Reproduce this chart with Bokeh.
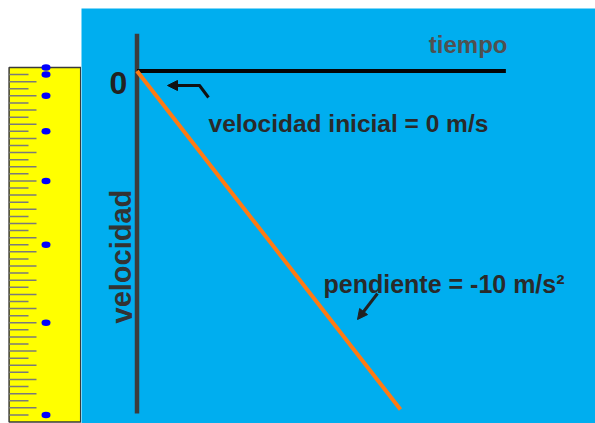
from bokeh.plotting import figure
from bokeh.layouts import row
from bokeh.models import Range1d, Arrow, NormalHead, Label
from bokeh.embed import file_html
from bokeh.resources import INLINE

# ---------------- data ----------------
drop_times_s = [0, 1, 2, 3, 4, 5, 6, 7]
drop_positions_m = [0, 5, 20, 45, 80, 125, 180, 245]
ruler_length_m = 250
ruler_tick_step_m = 5
line_t_s = [0, 7]
line_v_ms = [0, -70]
axis_t_max = 9.8
axis_v_top = 7.7
axis_v_bottom = -70.8
x_axis_label = "tiempo"
y_axis_label = "velocidad"
origin_label = "0"
note_initial = "velocidad inicial = 0 m/s"
note_slope = "pendiente = -10 m/s²"

# ---------------- layout ----------------
FONT = "Liberation Sans"
H = 423
W_R = 81
W_G = 514
TOP = 8
BLUE = "#00aeef"
PX_PER_M = 1.418
RULER_TOP = 67               # page y of 0 m
OX, OY = 55.5, 62.5          # origin of the graph inside the blue frame (px)
PX_PER_S, PX_PER_V = 37.64, 4.836
FH = H - TOP                 # frame height (both figures)

# ---------------- ruler figure ----------------
r = figure(width=W_R, height=H, output_backend="svg", toolbar_location=None,
           x_range=Range1d(0, W_R),
           y_range=Range1d((H - RULER_TOP) / PX_PER_M, -(RULER_TOP - TOP) / PX_PER_M),
           min_border=0, min_border_top=TOP, outline_line_color=None,
           background_fill_color="white", border_fill_color="white")
r.axis.visible = False
r.grid.visible = False
r.quad(left=8.6, right=W_R - 0.8, top=0, bottom=ruler_length_m,
       fill_color="#ffff00", line_color="#3a3a3a", line_width=1.5)
ticks = list(range(ruler_tick_step_m, ruler_length_m, ruler_tick_step_m))
lens = [36 if (m // ruler_tick_step_m) % 2 == 0 else 28 for m in ticks]
r.segment(x0=[8.6] * len(ticks), x1=lens, y0=ticks, y1=ticks,
          line_color="#7a7a7a", line_width=1.5)
r.ellipse(x=[45.5] * len(drop_positions_m), y=drop_positions_m,
          width=9, height=6.5 / PX_PER_M, fill_color="#0000ff", line_color=None)

# ---------------- graph figure ----------------
g = figure(width=W_G, height=H, output_backend="svg", toolbar_location=None,
           x_range=Range1d(-OX / PX_PER_S, (W_G - OX) / PX_PER_S),
           y_range=Range1d(-(FH - OY) / PX_PER_V, OY / PX_PER_V),
           min_border=0, min_border_top=TOP, outline_line_color=None,
           background_fill_color=BLUE, border_fill_color="white")
g.axis.visible = False
g.grid.visible = False


def gx(px):
    return (px - W_R - OX) / PX_PER_S


def gy(py):
    return (OY - (py - TOP)) / PX_PER_V


# axes lines
g.line(x=[0, 0], y=[axis_v_top, axis_v_bottom], line_color="#3c3c3c", line_width=4.5)
g.line(x=[0, axis_t_max], y=[0, 0], line_color="#050505", line_width=4)
# velocity line
g.line(x=line_t_s, y=line_v_ms, line_color="#ff7a12", line_width=4)

# arrows
g.line(x=[gx(199), gx(208)], y=[gy(85), gy(97)], line_color="#111111", line_width=3)
g.add_layout(Arrow(x_start=gx(200), y_start=gy(85), x_end=gx(167), y_end=gy(85),
                   line_color="#111111", line_width=3,
                   end=NormalHead(size=10, fill_color="#111111", line_color="#111111")))
g.add_layout(Arrow(x_start=gx(377), y_start=gy(293), x_end=gx(357), y_end=gy(319),
                   line_color="#222222", line_width=3,
                   end=NormalHead(size=10, fill_color="#222222", line_color="#222222")))


# texts
def lab(x, y, text, size, color="#2a2a2a", align="left", angle=0.0):
    g.add_layout(Label(x=x, y=y, text=text, text_font=FONT, text_font_size=f"{size}px",
                       text_font_style="bold", text_color=color, text_align=align,
                       text_baseline="alphabetic", angle=angle))


lab(gx(507), gy(44), x_axis_label, 24, color="#505050", align="right")
lab(gx(208), gy(123), note_initial, 24.5)
lab(gx(323), gy(283), note_slope, 25)
lab(gx(118), gy(82), origin_label, 32, color="#222222", align="center")
lab(gx(121), gy(323), y_axis_label, 29, color="#333333", angle=1.5708)

layout = row(r, g, spacing=0)
open("out.html", "w").write(file_html(layout, INLINE))
